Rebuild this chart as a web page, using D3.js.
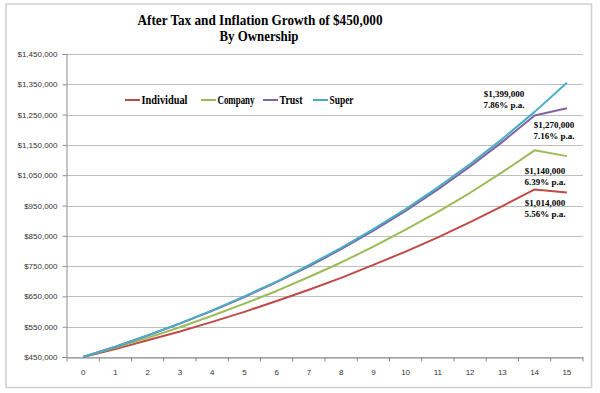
<!DOCTYPE html>
<html>
<head>
<meta charset="utf-8">
<script src="https://cdn.jsdelivr.net/npm/d3@7"></script>
<style>
  body { margin: 0; background: #fff; }
  svg { display: block; }
</style>
</head>
<body>
<div id="chart"></div>
<script>
// données
const years = ["0","1","2","3","4","5","6","7","8","9","10","11","12","13","14","15"];
const individual = [450000,476000,505000,534000,566000,599000,635000,672000,711000,754000,798000,845000,895000,948000,1003000,993000];
const company = [450000,481000,513000,548000,586000,626000,668000,714000,762000,814000,870000,929000,992000,1060000,1132000,1113000];
const trust = [450000,484000,521000,560000,602000,648000,697000,749000,806000,867000,932000,1003000,1079000,1160000,1247000,1271000];
const superFund = [450000,484000,521000,561000,604000,650000,699000,753000,810000,872000,938000,1010000,1087000,1170000,1259000,1355000];
const yTicks = [450000,550000,650000,750000,850000,950000,1050000,1150000,1250000,1350000,1450000];
const seriesNames = ["Individual","Company","Trust","Super"];
const seriesColors = ["#BE4B48","#9BBB59","#8064A2","#4BACC6"];
const annotations = [
  {x: "15", y: 1355000, lines: ["$1,399,000","7.86% p.a."]},
  {x: "15", y: 1271000, lines: ["$1,270,000","7.16% p.a."]},
  {x: "15", y: 1113000, lines: ["$1,140,000","6.39% p.a."]},
  {x: "15", y: 993000, lines: ["$1,014,000","5.56% p.a."]}
];

const width = 600;
const height = 393;
const margin = {top: 54, right: 17, bottom: 36, left: 67};

const svg = d3.select("#chart").append("svg")
    .attr("width", width)
    .attr("height", height);

// cadre du graphique
svg.append("rect")
    .attr("x", 6).attr("y", 4)
    .attr("width", 585.5).attr("height", 383.5)
    .attr("fill", "#fff")
    .attr("stroke", "#d0d0d0")
    .attr("stroke-width", 1.5);

const x = d3.scaleBand()
    .domain(years)
    .range([margin.left, width - margin.right]);

const y = d3.scaleLinear()
    .domain([450000, 1450000])
    .range([height - margin.bottom, margin.top]);

// grille horizontale
svg.append("g")
    .selectAll("line")
    .data(yTicks)
    .join("line")
    .attr("x1", margin.left)
    .attr("x2", width - margin.right)
    .attr("y1", d => Math.round(y(d)) + 0.5)
    .attr("y2", d => Math.round(y(d)) + 0.5)
    .attr("stroke", "#bdbdbd");

// axe y
const yAxis = svg.append("g")
    .attr("transform", `translate(${margin.left - 0.5},0)`)
    .call(d3.axisLeft(y).tickValues(yTicks).tickSize(4).tickPadding(5)
        .tickFormat(d => "$" + d3.format(",")(d)));
yAxis.select(".domain").attr("stroke", "#8a8a8a");
yAxis.selectAll(".tick line").attr("stroke", "#8a8a8a");
yAxis.selectAll(".tick text")
    .attr("fill", "#333")
    .style("font", "8px 'Liberation Sans', Arial, sans-serif");

// axe x (catégories)
const xAxis = svg.append("g")
    .attr("transform", `translate(0,${Math.round(y(450000)) + 0.5})`)
    .call(d3.axisBottom(x).tickSize(0).tickPadding(12));
xAxis.select(".domain").attr("stroke", "#8a8a8a");
xAxis.selectAll(".tick text")
    .attr("fill", "#333")
    .style("font", "8px 'Liberation Sans', Arial, sans-serif");
xAxis.append("g")
    .selectAll("line")
    .data(years.concat(["end"]))
    .join("line")
    .attr("x1", (d, i) => i < years.length ? x(d) : x.range()[1])
    .attr("x2", (d, i) => i < years.length ? x(d) : x.range()[1])
    .attr("y1", 0).attr("y2", 4)
    .attr("stroke", "#8a8a8a");

// lignes
const line = d3.line()
    .x((d, i) => x(years[i]) + x.bandwidth() / 2)
    .y(d => y(d));

const allSeries = [individual, company, trust, superFund];
svg.append("g")
    .selectAll("path")
    .data(allSeries)
    .join("path")
    .attr("d", line)
    .attr("fill", "none")
    .attr("stroke", (d, i) => seriesColors[i])
    .attr("stroke-width", 2)
    .attr("stroke-linejoin", "round");

// titre (police étroite simulée avec textLength)
const titleFont = "bold 15px 'Liberation Serif', 'DejaVu Serif', serif";
svg.append("text")
    .attr("x", 260).attr("y", 25)
    .attr("text-anchor", "middle")
    .attr("textLength", 245)
    .attr("lengthAdjust", "spacingAndGlyphs")
    .style("font", titleFont)
    .text("After Tax and Inflation Growth of $450,000");
svg.append("text")
    .attr("x", 259).attr("y", 41)
    .attr("text-anchor", "middle")
    .attr("textLength", 79)
    .attr("lengthAdjust", "spacingAndGlyphs")
    .style("font", titleFont)
    .text("By Ownership");

// légende
const legendX = [125, 201, 263, 313];
const legendW = [46, 37, 23, 24];
const legend = svg.append("g")
    .selectAll("g")
    .data(seriesNames)
    .join("g")
    .attr("transform", (d, i) => `translate(${legendX[i]},100)`);
legend.append("line")
    .attr("x1", 0).attr("x2", 15)
    .attr("stroke", (d, i) => seriesColors[i])
    .attr("stroke-width", 2);
legend.append("text")
    .attr("x", 16.5).attr("y", 4)
    .attr("textLength", (d, i) => legendW[i])
    .attr("lengthAdjust", "spacingAndGlyphs")
    .style("font", "bold 12px 'Liberation Serif', 'DejaVu Serif', serif")
    .text(d => d);

// étiquettes de fin
const labelPos = [[504, 94], [554, 125], [545, 171], [545, 203]];
const notes = svg.append("g")
    .selectAll("text")
    .data(annotations)
    .join("text")
    .attr("text-anchor", "middle")
    .style("font", "bold 9px 'Liberation Serif', 'DejaVu Serif', serif")
    .attr("fill", "#000");
notes.each(function (d, i) {
    const t = d3.select(this);
    d.lines.forEach((s, j) => {
        t.append("tspan")
            .attr("x", labelPos[i][0])
            .attr("y", labelPos[i][1] + 3 + j * 11)
            .text(s);
    });
});
</script>
</body>
</html>
